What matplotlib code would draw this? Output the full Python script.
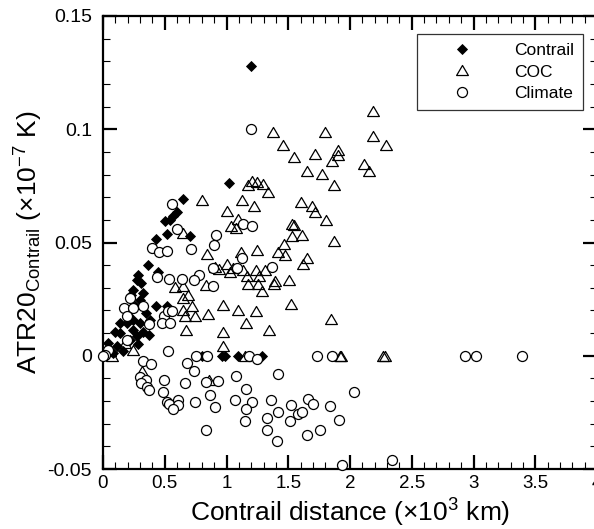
import matplotlib
matplotlib.use("Agg")
import matplotlib.pyplot as plt
from matplotlib.path import Path
from matplotlib.ticker import MultipleLocator, FixedLocator, FixedFormatter

plt.rcParams['font.family'] = ['Liberation Sans', 'DejaVu Sans']
plt.rcParams['mathtext.fontset'] = 'custom'
plt.rcParams['mathtext.rm'] = 'Liberation Sans'
plt.rcParams['mathtext.it'] = 'Liberation Sans:italic'

# ---- data ----
contrail_x = [1.196, 1.023, 0.650, 0.602, 0.569, 0.543, 0.505, 0.516, 0.704, 0.429,
              0.362, 0.448, 0.286, 0.273, 0.245, 0.327, 0.224, 0.300, 0.429, 0.516,
              0.381, 0.375, 0.300, 0.245, 0.192, 0.138, 0.097, 0.138, 0.245, 0.327,
              0.043, 0.111, 0.165, 0.084, 0.219, 0.273, 0.804, 0.961, 0.988, 1.090,
              1.285, 0.310, 0.260, 0.200, 0.350, 0.280, 0.020]
contrail_y = [0.128, 0.0762, 0.0692, 0.0634, 0.0615, 0.060, 0.0593, 0.0539, 0.053, 0.0515,
              0.040, 0.037, 0.0358, 0.0336, 0.029, 0.0277, 0.027, 0.0247, 0.0218, 0.0218,
              0.0159, 0.009, 0.0144, 0.0159, 0.0144, 0.0144, 0.0107, 0.010, 0.0115, 0.0107,
              0.0056, 0.0041, 0.0019, 0.0012, 0.007, 0.0085, 0.0, 0.0, 0.0, 0.0,
              0.0, 0.032, 0.022, 0.018, 0.019, 0.005, 0.001]

coc_x = [1.379, 1.798, 1.455, 1.547, 1.720, 1.905, 1.905, 1.857, 1.649, 1.776,
         1.873, 1.171, 1.209, 1.244, 1.298, 1.339, 0.799, 1.123, 1.600,
         2.189, 2.184, 2.291, 2.116, 2.157,
         1.695, 1.717, 1.806, 1.609, 1.873, 1.654, 1.622, 1.846, 1.925, 2.270, 2.285,
         1.223, 1.001, 1.096, 1.036, 1.074, 1.528, 1.549, 1.528, 1.468, 0.840,
         1.115, 1.249, 1.420, 1.474,
         0.907, 0.942, 1.001, 1.028, 1.055, 1.136, 1.163, 1.239, 1.266, 1.312,
         1.177, 1.258, 1.285, 1.393, 1.385, 1.509, 0.834,
         0.969, 1.090, 1.239, 1.520, 0.853, 1.158, 1.344, 0.969, 0.974, 1.150, 1.919,
         0.650, 0.583, 0.645, 0.650, 0.691, 0.650, 0.718, 0.745, 0.664, 0.672,
         0.245, 0.075, 0.313, 0.858, 0.178]
coc_y = [0.0986, 0.0986, 0.0929, 0.0876, 0.089, 0.091, 0.0887, 0.0858, 0.0814, 0.0804,
         0.0755, 0.0752, 0.077, 0.0765, 0.0758, 0.0721, 0.0688, 0.0689, 0.0681,
         0.1079, 0.0971, 0.0929, 0.0848, 0.0817,
         0.0662, 0.0634, 0.060, 0.0534, 0.0505, 0.0433, 0.0406, 0.0163, 0.0, 0.0, 0.0,
         0.0662, 0.064, 0.0605, 0.0575, 0.0564, 0.0583, 0.0578, 0.053, 0.0494, 0.045,
         0.046, 0.0465, 0.0456, 0.0446,
         0.0394, 0.0383, 0.0406, 0.0368, 0.0387, 0.0377, 0.0353, 0.0377, 0.0353, 0.038,
         0.0317, 0.0317, 0.0287, 0.0328, 0.0317, 0.0336, 0.0313,
         0.0225, 0.0203, 0.0199, 0.023, 0.0184, 0.0144, 0.0112, 0.0103, 0.0041, 0.0, 0.0,
         0.0542, 0.0303, 0.0309, 0.0255, 0.027, 0.0203, 0.0221, 0.0174, 0.0174, 0.0115,
         0.0026, -0.0003, -0.0069, -0.0106, 0.0056]

climate_x = [1.198, 0.556, 0.602, 0.394, 0.456, 0.521, 0.713, 0.915, 0.899, 1.123,
             1.136, 1.209, 0.888, 1.088, 1.371, 0.780, 0.737, 0.893, 0.435, 0.537,
             0.637, 0.219, 0.170, 0.245, 0.327, 0.192, 0.497, 0.524, 0.556, 0.475,
             0.543, 0.375, 0.192, 0.043, 0.016, 0.524,
             0.753, 0.845, 0.677, 0.321, 0.389, 0.739, 1.420, 1.077, 0.300, 0.497,
             0.348, 0.308, 0.664, 0.834, 0.934, 0.354, 0.375, 0.483, 1.158, 0.866,
             2.035, 0.516, 0.605, 0.537, 0.610, 0.564, 0.745, 0.907, 1.069, 1.209,
             1.158, 1.358, 1.520, 1.663, 1.698, 1.838, 1.414, 1.576, 1.609, 1.331,
             1.150, 1.514, 1.914, 1.325, 0.834, 1.757, 1.649, 1.411, 1.938, 2.343,
             1.185, 1.244, 1.735, 1.852, 2.931, 3.018, 3.395, 0.000]
climate_y = [0.1001, 0.0671, 0.0559, 0.0475, 0.0456, 0.0464, 0.0472, 0.0534, 0.049, 0.0433,
             0.0581, 0.0575, 0.0387, 0.0387, 0.0392, 0.0358, 0.0336, 0.031, 0.0346, 0.034,
             0.034, 0.0255, 0.021, 0.021, 0.0218, 0.0177, 0.0177, 0.0199, 0.0199, 0.0144,
             0.0144, 0.0141, 0.007, 0.0026, 0.0004, 0.0019,
             -0.0003, 0.0, -0.003, -0.0025, -0.0035, -0.0069, -0.0079, -0.0091, -0.0094, -0.0109,
             -0.0109, -0.0121, -0.0121, -0.0116, -0.0113, -0.0138, -0.0153, -0.0158, -0.0146, -0.0175,
             -0.0158, -0.0202, -0.0197, -0.0212, -0.0216, -0.0235, -0.0204, -0.0226, -0.0197, -0.0204,
             -0.0234, -0.0197, -0.0219, -0.019, -0.0213, -0.0221, -0.025, -0.0258, -0.025, -0.0275,
             -0.029, -0.029, -0.0283, -0.0327, -0.033, -0.0327, -0.0352, -0.0378, -0.0481, -0.0462,
             0.0, -0.0015, 0.0, 0.0, 0.0, 0.0, 0.0, 0.0]

x_ticks = [0, 0.5, 1, 1.5, 2, 2.5, 3, 3.5, 4]
x_ticklabels = ['0', '0.5', '1', '1.5', '2', '2.5', '3', '3.5', '4']
y_ticks = [-0.05, 0, 0.05, 0.1, 0.15]
y_ticklabels = ['-0.05', '0', '0.05', '0.1', '0.15']

# ---- figure ----
fig = plt.figure(figsize=(5.94, 5.29), dpi=100)
ax = fig.add_axes([103 / 594, 60 / 529, 494 / 594, 453 / 529])

tri = Path([(-1, -0.85), (1, -0.85), (0, 0.85), (-1, -0.85)],
           [Path.MOVETO, Path.LINETO, Path.LINETO, Path.CLOSEPOLY])

ax.plot(contrail_x, contrail_y, linestyle='none', marker='D', markersize=5.0,
        markerfacecolor='black', markeredgecolor='black', markeredgewidth=0.6,
        label='Contrail', clip_on=False, zorder=3)
ax.plot(coc_x, coc_y, linestyle='none', marker=tri, markersize=8.5,
        markerfacecolor='none', markeredgecolor='black', markeredgewidth=0.9,
        label='COC', clip_on=False, zorder=4)
ax.plot(climate_x, climate_y, linestyle='none', marker='o', markersize=7.2,
        markerfacecolor='white', markeredgecolor='black', markeredgewidth=0.9,
        label='Climate', clip_on=False, zorder=5)

ax.set_xlim(0, 4)
ax.set_ylim(-0.05, 0.15)
ax.xaxis.set_major_locator(FixedLocator(x_ticks))
ax.xaxis.set_major_formatter(FixedFormatter(x_ticklabels))
ax.yaxis.set_major_locator(FixedLocator(y_ticks))
ax.yaxis.set_major_formatter(FixedFormatter(y_ticklabels))
ax.xaxis.set_minor_locator(MultipleLocator(0.1))
ax.yaxis.set_minor_locator(MultipleLocator(0.01))
ax.tick_params(which='both', direction='in', top=True, right=True, colors='black')
ax.tick_params(which='major', length=10, width=1.6, labelsize=13.5)
ax.tick_params(axis='x', which='major', pad=4)
ax.tick_params(axis='y', which='major', pad=8, labelsize=14)
ax.tick_params(which='minor', length=5, width=0.8)
for s in ax.spines.values():
    s.set_linewidth(1.6)

ax.set_xlabel(r'Contrail distance ($\times$10$^{3}$ km)', fontsize=19, labelpad=4)
ax.set_ylabel(r'ATR20$_{\mathrm{Contrail}}$ ($\times$10$^{\mathrm{-7}}$ K)', fontsize=19, labelpad=2)

leg = ax.legend(loc='upper right', bbox_to_anchor=(0.972, 0.960), borderaxespad=0,
                fontsize=12.5, frameon=True, fancybox=False, handlelength=4.1,
                handletextpad=1.0, borderpad=0.5, labelspacing=0.37, markerfirst=True)
leg.get_frame().set_edgecolor('black')
leg.get_frame().set_linewidth(0.9)
for t in leg.get_texts():
    t.set_ha('left')

fig.savefig('out.png', dpi=100)
